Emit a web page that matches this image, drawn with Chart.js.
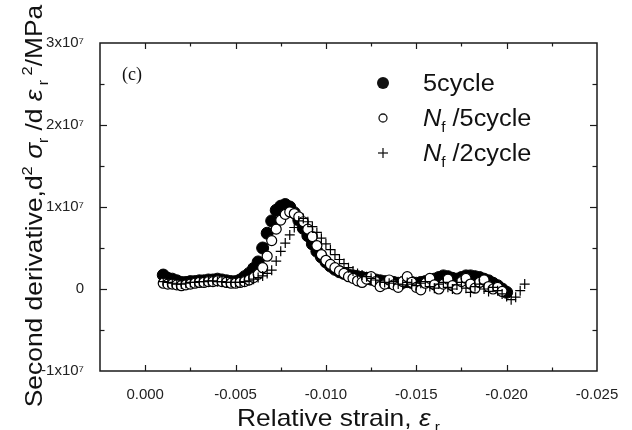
<!DOCTYPE html>
<html><head><meta charset="utf-8">
<script src="https://cdn.jsdelivr.net/npm/chart.js@4/dist/chart.umd.min.js"></script>
<style>html,body{margin:0;padding:0;background:#fff}#wrap{width:632px;height:430px}</style>
</head><body><div id="wrap"><canvas id="c" width="632" height="430"></canvas></div>
<script>
// Relative strain (x) shared by all series
const strain = [-0.00100,-0.00125,-0.00150,-0.00175,-0.00200,-0.00225,-0.00250,-0.00275,-0.00300,-0.00325,
-0.00350,-0.00375,-0.00400,-0.00425,-0.00450,-0.00475,-0.00500,-0.00525,-0.00550,-0.00575,
-0.00600,-0.00625,-0.00650,-0.00675,-0.00700,-0.00725,-0.00750,-0.00775,-0.00800,-0.00825,
-0.00850,-0.00875,-0.00900,-0.00925,-0.00950,-0.00975,-0.01000,-0.01025,-0.01050,-0.01075,
-0.01100,-0.01125,-0.01150,-0.01175,-0.01200,-0.01225,-0.01250,-0.01275,-0.01300,-0.01325,
-0.01350,-0.01375,-0.01400,-0.01425,-0.01450,-0.01475,-0.01500,-0.01525,-0.01550,-0.01575,
-0.01600,-0.01625,-0.01650,-0.01675,-0.01700,-0.01725,-0.01750,-0.01775,-0.01800,-0.01825,
-0.01850,-0.01875,-0.01900,-0.01925,-0.01950,-0.01975,-0.02000,-0.02025,-0.02050,-0.02075,
-0.02100];
// Second derivative (MPa) for "5cycle"
const cycle5 = [1.7e6,1.3e6,1.2e6,1.0e6,0.8e6,0.8e6,0.9e6,0.9e6,1.0e6,1.0e6,
1.1e6,1.1e6,1.2e6,1.1e6,1.0e6,0.9e6,0.9e6,1.1e6,1.5e6,1.9e6,
2.5e6,3.3e6,5.0e6,6.8e6,8.3e6,9.6e6,10.1e6,10.3e6,10.0e6,9.3e6,
8.4e6,7.4e6,6.5e6,5.5e6,4.6e6,3.9e6,3.3e6,2.8e6,2.4e6,2.1e6,
1.9e6,1.7e6,1.6e6,1.5e6,1.4e6,1.3e6,1.2e6,1.1e6,1.0e6,0.9e6,
0.8e6,0.8e6,0.7e6,0.8e6,0.9e6,0.8e6,0.7e6,0.8e6,0.9e6,1.0e6,
1.2e6,1.4e6,1.6e6,1.5e6,1.3e6,1.2e6,1.4e6,1.6e6,1.6e6,1.5e6,
1.4e6,1.2e6,1.0e6,0.7e6,0.4e6,0.0,-0.4e6,null,null,null,
null];
// Second derivative (MPa) for "Nf/5cycle"
const nf5cycle = [0.7e6,0.6e6,0.6e6,0.5e6,0.4e6,0.5e6,0.6e6,0.7e6,0.8e6,0.8e6,
0.9e6,0.9e6,1.0e6,0.9e6,0.8e6,0.7e6,0.7e6,0.8e6,0.9e6,1.1e6,
1.4e6,1.8e6,2.6e6,4.0e6,5.9e6,7.3e6,8.4e6,9.1e6,9.4e6,9.2e6,
8.8e6,8.2e6,7.3e6,6.4e6,5.3e6,4.2e6,3.5e6,3.0e6,2.6e6,2.2e6,
1.9e6,1.5e6,1.3e6,1.0e6,0.8e6,1.2e6,1.5e6,0.9e6,0.3e6,0.6e6,
1.1e6,0.5e6,0.2e6,0.9e6,1.5e6,0.8e6,0.2e6,-0.1e6,0.7e6,1.3e6,
0.5e6,0.0,0.6e6,1.2e6,0.4e6,0.0,0.9e6,1.3e6,0.6e6,0.1e6,
0.8e6,1.1e6,0.3e6,0.0,0.2e6,-0.3e6,null,null,null,null,
null];
// Second derivative (MPa) for "Nf/2cycle"
const nf2cycle = [0.9e6,0.8e6,0.7e6,0.6e6,0.6e6,0.7e6,0.8e6,0.8e6,0.9e6,0.9e6,
1.0e6,1.0e6,0.9e6,0.9e6,0.8e6,0.8e6,0.8e6,0.8e6,0.9e6,1.0e6,
1.2e6,1.4e6,1.6e6,1.9e6,2.3e6,3.4e6,4.6e6,5.6e6,6.6e6,7.5e6,
8.3e6,8.6e6,8.2e6,7.6e6,6.9e6,6.2e6,5.5e6,4.8e6,4.2e6,3.6e6,
3.1e6,2.6e6,2.2e6,1.9e6,1.7e6,1.5e6,1.3e6,1.1e6,1.0e6,0.8e6,
0.7e6,0.9e6,0.6e6,0.5e6,0.8e6,0.6e6,0.4e6,0.7e6,0.9e6,0.3e6,
0.1e6,0.6e6,0.8e6,0.2e6,0.0,0.5e6,0.8e6,0.1e6,-0.4e6,0.3e6,
0.6e6,0.0,-0.3e6,0.2e6,-0.2e6,-0.6e6,-0.9e6,-1.3e6,-1.0e6,-0.2e6,
0.6e6];
const seriesNames = ['5cycle','Nf /5cycle','Nf /2cycle'];
const xTickLabels = ['0.000','-0.005','-0.010','-0.015','-0.020','-0.025'];
const yTickLabels = ['-1x10\u2077','0','1x10\u2077','2x10\u2077','3x10\u2077'];

const FONT = '"Liberation Sans", Arial, sans-serif';
const SX = 1.1; // horizontal stretch of title/legend text as in the original figure
const toPts = arr => strain.map((s,i)=>({x:s,y:arr[i]})).filter(p=>p.y!==null);

function richWidth(ctx, segs){let w=0;for(const s of segs){ctx.font=s.f;w+=ctx.measureText(s.t).width;}return w*SX;}
function drawRich(ctx, segs, x, y){
  ctx.save();ctx.translate(x,y);ctx.scale(SX,1);
  let cx=0;for(const s of segs){ctx.font=s.f;ctx.fillText(s.t,cx,(s.dy||0));cx+=ctx.measureText(s.t).width;}
  ctx.restore();
}

const decor = {
  id:'decor',
  afterDraw(chart){
    const {ctx, chartArea:a} = chart;
    const xs = chart.scales.x, ys = chart.scales.y;
    ctx.save();
    ctx.strokeStyle='#1a1a1a';
    ctx.lineWidth=1.5;
    ctx.strokeRect(a.left, a.top, a.right-a.left, a.bottom-a.top);
    ctx.lineWidth=1.2;
    const line=(x1,y1,x2,y2)=>{ctx.beginPath();ctx.moveTo(x1,y1);ctx.lineTo(x2,y2);ctx.stroke();};
    xs.ticks.forEach(t=>{
      const px=Math.round(xs.getPixelForValue(t.value))+0.5;
      if(px<=a.left+2||px>=a.right-2) return;
      const r=t.value/0.005, major=Math.abs(r-Math.round(r))<1e-6;
      const len=major?6:3.5;
      line(px,a.bottom,px,a.bottom-len); line(px,a.top,px,a.top+len);
    });
    ys.ticks.forEach(t=>{
      const py=Math.round(ys.getPixelForValue(t.value))+0.5;
      if(py<=a.top+2||py>=a.bottom-2) return;
      const r=t.value/1e7, major=Math.abs(r-Math.round(r))<1e-6;
      const len=major?7:4.5;
      line(a.left,py,a.left+len,py); line(a.right,py,a.right-len,py);
    });
    ctx.fillStyle='#111';
    ctx.textBaseline='alphabetic';
    ctx.textAlign='left';
    // panel label
    ctx.font='18px "Liberation Serif", "Times New Roman", serif';
    ctx.fillText('(c)', a.left+22, a.top+37);
    // legend
    const lx=a.left+283, tx=a.left+323;
    const rows=[a.top+40,a.top+75,a.top+110];
    ctx.beginPath();ctx.arc(lx,rows[0],6,0,Math.PI*2);ctx.fill();
    ctx.lineWidth=1.3;
    ctx.beginPath();ctx.arc(lx,rows[1],4,0,Math.PI*2);ctx.stroke();
    line(lx-5,rows[2],lx+5,rows[2]); line(lx,rows[2]-5,lx,rows[2]+5);
    const LF=`23px ${FONT}`, LI=`italic 23px ${FONT}`, LS=`14px ${FONT}`;
    drawRich(ctx,[{t:'5cycle',f:LF}],tx,rows[0]+8);
    drawRich(ctx,[{t:'N',f:LI},{t:'f',f:LS,dy:6},{t:' /5cycle',f:LF}],tx,rows[1]+8);
    drawRich(ctx,[{t:'N',f:LI},{t:'f',f:LS,dy:6},{t:' /2cycle',f:LF}],tx,rows[2]+8);
    // x title
    const xt=[{t:'Relative strain, ',f:`24px ${FONT}`},{t:'\u03b5',f:`italic 24px ${FONT}`},{t:' r',f:`14px ${FONT}`,dy:6}];
    const xw=richWidth(ctx,xt);
    drawRich(ctx,xt,(a.left+a.right)/2-10-xw/2,426);
    // y title
    const yt=[{t:'Second derivative,d',f:`24px ${FONT}`},{t:'2',f:`15px ${FONT}`,dy:-10},
      {t:' \u03c3',f:`italic 24px ${FONT}`},{t:'r',f:`14px ${FONT}`,dy:6},
      {t:' /d ',f:`24px ${FONT}`},{t:'\u03b5',f:`italic 24px ${FONT}`},
      {t:' r',f:`14px ${FONT}`,dy:6},{t:' 2',f:`15px ${FONT}`,dy:-10},{t:'/MPa',f:`24px ${FONT}`}];
    const yw=richWidth(ctx,yt);
    ctx.translate(42,206);
    ctx.rotate(-Math.PI/2);
    drawRich(ctx,yt,-yw/2,0);
    ctx.restore();
  }
};

new Chart(document.getElementById('c'),{
  type:'scatter',
  data:{datasets:[
    {label:seriesNames[2],data:toPts(nf2cycle),pointStyle:'cross',pointRadius:5,borderColor:'#000',pointBorderWidth:1.2,backgroundColor:'#000',order:1},
    {label:seriesNames[1],data:toPts(nf5cycle),pointStyle:'circle',pointRadius:5,borderColor:'#000',pointBorderWidth:1.2,backgroundColor:'#fff',order:2},
    {label:seriesNames[0],data:toPts(cycle5),pointStyle:'circle',pointRadius:6,borderColor:'#000',pointBorderWidth:1,backgroundColor:'#000',order:3}
  ]},
  options:{
    responsive:false,animation:false,
    layout:{padding:{top:43,right:35,left:0,bottom:0}},
    plugins:{legend:{display:false},tooltip:{enabled:false}},
    scales:{
      x:{type:'linear',reverse:true,min:-0.025,max:0.0025,
        grid:{display:false},border:{display:false},
        ticks:{stepSize:0.0025,autoSkip:false,maxRotation:0,padding:7,color:'#222',font:{family:FONT,size:15},
          callback:v=>{const r=v/0.005;if(Math.abs(r-Math.round(r))>1e-6)return '';return xTickLabels[Math.round(-r)]??'';}},
        afterFit:s=>{s.height=59;}},
      y:{min:-1e7,max:3e7,
        grid:{display:false},border:{display:false},
        ticks:{stepSize:5e6,padding:8,color:'#222',font:{family:FONT,size:15},
          callback:v=>{const r=v/1e7;if(Math.abs(r-Math.round(r))>1e-6)return '';return yTickLabels[Math.round(r)+1];}},
        afterFit:s=>{s.width=100;}}
    }
  },
  plugins:[decor]
});
</script></body></html>
